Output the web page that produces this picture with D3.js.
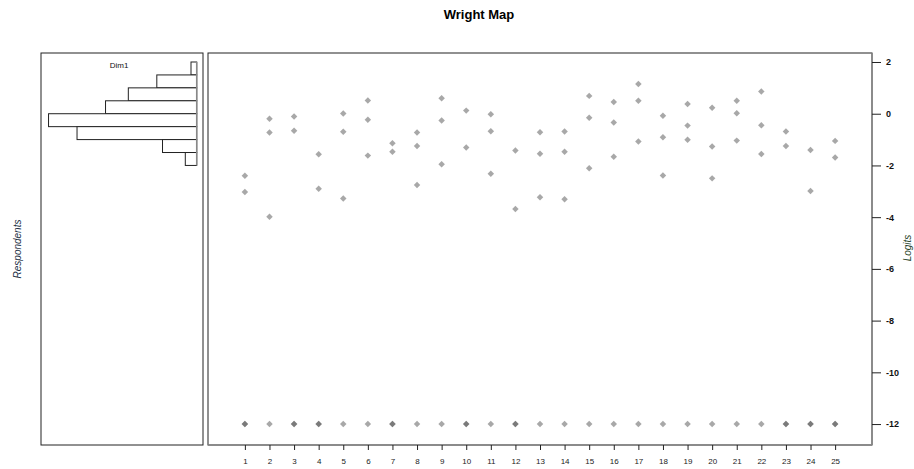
<!DOCTYPE html>
<html>
<head>
<meta charset="utf-8">
<script src="https://cdn.jsdelivr.net/npm/d3@7"></script>
<style>
  html, body { margin: 0; padding: 0; background: #fff; }
  svg { display: block; font-family: "Liberation Sans", Arial, sans-serif; }
</style>
</head>
<body>
<svg id="chart" width="914" height="469"></svg>
<script>
// Items on the horizontal axis
const items = d3.range(1, 26);

// Item thresholds (logits), highest to lowest for each item
const thresholdA = [-2.40, -0.19, -0.11, -1.57, 0.01, 0.51, -1.14, -0.73, 0.60, 0.12, -0.02, -1.42, -0.72,
                    -0.69, 0.69, 0.45, 1.15, -0.08, 0.38, 0.23, 0.50, 0.86, -0.69, -1.40, -1.05];
const thresholdB = [-3.03, -0.73, -0.66, -2.90, -0.70, -0.23, -1.47, -1.25, -0.26, -1.31, -0.68, -3.68, -1.55,
                    -1.47, -0.16, -0.34, 0.50, -0.91, -0.46, -1.27, 0.02, -0.45, -1.25, -2.99, -1.69];
const thresholdC = [-12, -3.98, -12, -12, -3.28, -1.62, -12, -2.76, -1.95, -12, -2.32, -12, -3.23,
                    -3.31, -2.11, -1.66, -1.07, -2.39, -1.01, -2.50, -1.04, -1.56, -12, -12, -12];
const thresholdD = [-12, -12, -12, -12, -12, -12, -12, -12, -12, -12, -12, -12, -12,
                    -12, -12, -12, -12, -12, -12, -12, -12, -12, -12, -12, -12];

// Respondent distribution: bin edges (logits) and counts
const binLower = [1.5, 1.0, 0.5, 0.0, -0.5, -1.0, -1.5, -2.0];
const binUpper = [2.0, 1.5, 1.0, 0.5, 0.0, -0.5, -1.0, -1.5];
const binCounts = [1, 7, 12, 16, 26, 21, 6, 2];

// Logit axis ticks
const logitTicks = [2, 0, -2, -4, -6, -8, -10, -12];

const svg = d3.select("#chart");

// Panel frames
const mapPanel = { left: 208, right: 872, top: 53, bottom: 445 };
const histPanel = { left: 41, right: 203, top: 53, bottom: 445 };

const y = d3.scaleLinear().domain([-12.81, 2.348]).range([mapPanel.bottom, mapPanel.top]);
const x = d3.scaleLinear().domain([-0.5, 26.5]).range([mapPanel.left, mapPanel.right]);
const hx = d3.scaleLinear().domain([0, 27.2]).range([196.7, 41.7]);

// Title
svg.append("text")
  .attr("x", 479).attr("y", 19)
  .attr("text-anchor", "middle")
  .attr("font-size", 13).attr("font-weight", "bold")
  .attr("fill", "#000")
  .text("Wright Map");

// ---- Respondent histogram ----
svg.append("rect")
  .attr("x", histPanel.left).attr("y", histPanel.top)
  .attr("width", histPanel.right - histPanel.left)
  .attr("height", histPanel.bottom - histPanel.top)
  .attr("fill", "none").attr("stroke", "#222").attr("stroke-width", 1);

svg.append("g").selectAll("rect")
  .data(binCounts)
  .join("rect")
  .attr("x", d => hx(d))
  .attr("y", (d, i) => y(binUpper[i]))
  .attr("width", d => hx(0) - hx(d))
  .attr("height", (d, i) => y(binLower[i]) - y(binUpper[i]))
  .attr("fill", "#fff")
  .attr("stroke", "#222")
  .attr("stroke-width", 1);

// baseline of the histogram
svg.append("line")
  .attr("x1", hx(0)).attr("x2", hx(0))
  .attr("y1", y(binUpper[0])).attr("y2", y(binLower[binLower.length - 1]))
  .attr("stroke", "#888").attr("stroke-width", 1.5);

svg.append("text")
  .attr("x", 119).attr("y", 68)
  .attr("text-anchor", "middle")
  .attr("font-size", 8).attr("fill", "#111")
  .text("Dim1");

svg.append("text")
  .attr("transform", "translate(21,249) rotate(-90)")
  .attr("text-anchor", "middle")
  .attr("font-size", 10).attr("font-style", "italic")
  .attr("fill", "#1e3246")
  .text("Respondents");

// ---- Item map ----
svg.append("rect")
  .attr("x", mapPanel.left).attr("y", mapPanel.top)
  .attr("width", mapPanel.right - mapPanel.left)
  .attr("height", mapPanel.bottom - mapPanel.top)
  .attr("fill", "none").attr("stroke", "#222").attr("stroke-width", 1);

// Axis lines on bottom and right
svg.append("line")
  .attr("x1", mapPanel.left).attr("x2", mapPanel.right)
  .attr("y1", mapPanel.bottom).attr("y2", mapPanel.bottom)
  .attr("stroke", "#8a8a8a").attr("stroke-width", 1.5);
svg.append("line")
  .attr("x1", mapPanel.right).attr("x2", mapPanel.right)
  .attr("y1", mapPanel.top).attr("y2", mapPanel.bottom)
  .attr("stroke", "#8a8a8a").attr("stroke-width", 1.5);

// Bottom axis: item numbers
const xAxis = svg.append("g")
  .attr("transform", `translate(0,${mapPanel.bottom})`)
  .call(d3.axisBottom(x).tickValues(items).tickSize(5).tickPadding(8).tickFormat(d3.format("d")));
xAxis.select(".domain").remove();
xAxis.selectAll(".tick line").attr("stroke", "#222");
xAxis.selectAll(".tick text")
  .attr("font-family", "'Liberation Sans', Arial, sans-serif")
  .attr("font-size", 8).attr("fill", "#222");

// Right axis: logits
const yAxis = svg.append("g")
  .attr("transform", `translate(${mapPanel.right},0)`)
  .call(d3.axisRight(y).tickValues(logitTicks).tickSize(9).tickPadding(5).tickFormat(d3.format("d")));
yAxis.select(".domain").remove();
yAxis.selectAll(".tick line").attr("stroke", "#222");
yAxis.selectAll(".tick text")
  .attr("font-family", "'Liberation Sans', Arial, sans-serif")
  .attr("font-size", 9).attr("font-weight", "bold").attr("fill", "#111")
  .text(d => d < 0 ? "-" + Math.abs(d) : d);

svg.append("text")
  .attr("transform", "translate(911,248) rotate(-90)")
  .attr("text-anchor", "middle")
  .attr("font-size", 10).attr("font-style", "italic")
  .attr("fill", "#2a452a")
  .text("Logits");

// Threshold markers: translucent diamonds, darker where they overlap
const thresholdSets = [thresholdA, thresholdB, thresholdC, thresholdD];
const points = [];
thresholdSets.forEach(set => set.forEach((v, i) => points.push({ item: items[i], value: v })));

const diamond = d3.symbol().type(d3.symbolSquare).size(21);
svg.append("g").selectAll("path")
  .data(points)
  .join("path")
  .attr("d", diamond)
  .attr("transform", d => `translate(${x(d.item)},${y(d.value)}) rotate(45)`)
  .attr("fill", "#4a4a4a")
  .attr("fill-opacity", 0.48);
</script>
</body>
</html>
